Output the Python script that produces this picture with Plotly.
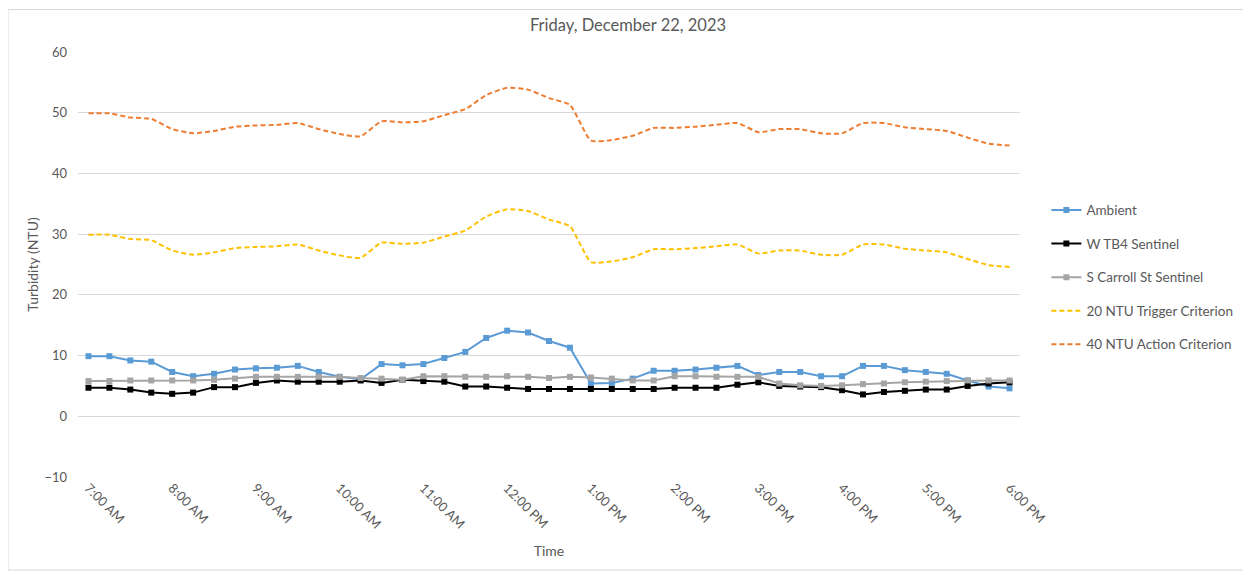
import plotly.graph_objects as go

times = ["7:00 AM", "7:15 AM", "7:30 AM", "7:45 AM", "8:00 AM", "8:15 AM", "8:30 AM", "8:45 AM",
         "9:00 AM", "9:15 AM", "9:30 AM", "9:45 AM", "10:00 AM", "10:15 AM", "10:30 AM", "10:45 AM",
         "11:00 AM", "11:15 AM", "11:30 AM", "11:45 AM", "12:00 PM", "12:15 PM", "12:30 PM", "12:45 PM",
         "1:00 PM", "1:15 PM", "1:30 PM", "1:45 PM", "2:00 PM", "2:15 PM", "2:30 PM", "2:45 PM",
         "3:00 PM", "3:15 PM", "3:30 PM", "3:45 PM", "4:00 PM", "4:15 PM", "4:30 PM", "4:45 PM",
         "5:00 PM", "5:15 PM", "5:30 PM", "5:45 PM", "6:00 PM"]

tick_labels = ["7:00 AM", "8:00 AM", "9:00 AM", "10:00 AM", "11:00 AM", "12:00 PM",
               "1:00 PM", "2:00 PM", "3:00 PM", "4:00 PM", "5:00 PM", "6:00 PM"]

ambient = [9.9, 9.9, 9.2, 9.0, 7.3, 6.6, 7.0, 7.7, 7.9, 8.0, 8.3, 7.3, 6.5, 6.1, 8.6,
           8.4, 8.6, 9.6, 10.6, 12.9, 14.1, 13.8, 12.4, 11.3, 5.4, 5.5, 6.2, 7.5, 7.5, 7.7,
           8.0, 8.3, 6.8, 7.3, 7.3, 6.6, 6.6, 8.3, 8.3, 7.6, 7.3, 7.0, 5.9, 4.9, 4.6]

w_tb4 = [4.7, 4.7, 4.4, 3.9, 3.7, 3.9, 4.8, 4.8, 5.5, 5.9, 5.7, 5.7, 5.7, 5.9, 5.5,
         6.0, 5.8, 5.7, 4.9, 4.9, 4.7, 4.5, 4.5, 4.5, 4.5, 4.5, 4.5, 4.5, 4.7, 4.7,
         4.7, 5.2, 5.6, 5.0, 4.9, 4.8, 4.3, 3.6, 4.0, 4.2, 4.4, 4.4, 5.0, 5.4, 5.6]

s_carroll = [5.8, 5.8, 5.9, 5.9, 5.9, 5.9, 6.0, 6.2, 6.5, 6.5, 6.5, 6.5, 6.5, 6.3, 6.2,
             6.0, 6.6, 6.6, 6.5, 6.5, 6.6, 6.5, 6.3, 6.5, 6.4, 6.2, 5.9, 5.9, 6.6, 6.6,
             6.5, 6.5, 6.5, 5.4, 5.1, 5.0, 5.1, 5.3, 5.4, 5.6, 5.7, 5.8, 5.9, 5.9, 5.9]

trigger_20 = [29.9, 29.9, 29.2, 29.0, 27.3, 26.6, 27.0, 27.7, 27.9, 28.0, 28.3, 27.3, 26.5, 26.1, 28.6,
              28.4, 28.6, 29.6, 30.6, 32.9, 34.1, 33.8, 32.4, 31.3, 25.4, 25.5, 26.2, 27.5, 27.5, 27.7,
              28.0, 28.3, 26.8, 27.3, 27.3, 26.6, 26.6, 28.3, 28.3, 27.6, 27.3, 27.0, 25.9, 24.9, 24.6]

action_40 = [49.9, 49.9, 49.2, 49.0, 47.3, 46.6, 47.0, 47.7, 47.9, 48.0, 48.3, 47.3, 46.5, 46.1, 48.6,
             48.4, 48.6, 49.6, 50.6, 52.9, 54.1, 53.8, 52.4, 51.3, 45.4, 45.5, 46.2, 47.5, 47.5, 47.7,
             48.0, 48.3, 46.8, 47.3, 47.3, 46.6, 46.6, 48.3, 48.3, 47.6, 47.3, 47.0, 45.9, 44.9, 44.6]

FONT = "Lato"
TXT = "#595959"

fig = go.Figure()

fig.add_trace(go.Scatter(x=times, y=ambient, name="Ambient", mode="lines+markers",
                         line=dict(color="#5B9BD5", width=2),
                         marker=dict(symbol="square", size=6, color="#5B9BD5"),
                         legendgroup="a"))
fig.add_trace(go.Scatter(x=times, y=w_tb4, name="W TB4 Sentinel", mode="lines+markers",
                         line=dict(color="#000000", width=2),
                         marker=dict(symbol="square", size=6, color="#000000"),
                         legendgroup="b"))
fig.add_trace(go.Scatter(x=times, y=s_carroll, name="S Carroll St Sentinel", mode="lines+markers",
                         line=dict(color="#A5A5A5", width=2),
                         marker=dict(symbol="square", size=6, color="#A5A5A5"),
                         legendgroup="c"))
fig.add_trace(go.Scatter(x=times, y=trigger_20, name="20 NTU Trigger Criterion", mode="lines",
                         line=dict(color="#FFC000", width=2, dash="5px,3px", shape="spline", smoothing=0.5),
                         legendgroup="d"))
fig.add_trace(go.Scatter(x=times, y=action_40, name="40 NTU Action Criterion", mode="lines",
                         line=dict(color="#ED7D31", width=2, dash="5px,3px", shape="spline", smoothing=0.5),
                         legendgroup="e"))

fig.update_layout(
    width=1251, height=575,
    paper_bgcolor="white", plot_bgcolor="white",
    font=dict(family=FONT, size=13, color=TXT),
    title=dict(text="Friday, December 22, 2023", xref="container", x=620 / 1251, xanchor="center",
               y=1 - 17 / 575, yanchor="middle",
               font=dict(family=FONT, size=16.5, color=TXT)),
    margin=dict(l=70, r=239, t=44, b=106),
    showlegend=True,
    legend=dict(x=1.028, xanchor="left", y=0.47, yanchor="middle",
                font=dict(family=FONT, size=13.5, color=TXT),
                tracegroupgap=13, itemwidth=30, bgcolor="rgba(0,0,0,0)"),
    xaxis=dict(type="category", categoryorder="array", categoryarray=times,
               range=[-0.5, len(times) - 0.5],
               tickmode="array", tickvals=tick_labels, ticktext=tick_labels,
               tickangle=45, showgrid=False, showline=False, zeroline=False,
               tickfont=dict(family=FONT, size=13, color=TXT),
               title=dict(text="Time", font=dict(family=FONT, size=14, color=TXT), standoff=15)),
    yaxis=dict(range=[-10, 60], dtick=10, tick0=0, showgrid=True, gridcolor="#D9D9D9", gridwidth=1,
               zeroline=False, showline=False, ticks="", ticklabelstandoff=10,
               tickfont=dict(family=FONT, size=13, color=TXT),
               title=dict(text="Turbidity (NTU)", font=dict(family=FONT, size=14, color=TXT), standoff=2)),
)

fig.add_shape(type="rect", xref="paper", yref="paper", x0=-0.0743, x1=1.2389, y0=-0.219, y1=1.1,
              line=dict(color="#D9D9D9", width=1), fillcolor="rgba(0,0,0,0)", layer="below")

fig.write_html("out.html")
